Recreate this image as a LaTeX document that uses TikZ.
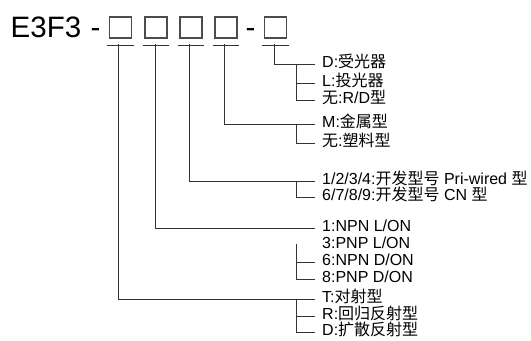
\documentclass[tikz,border=0pt]{standalone}
\usepackage{fontspec}
\setmainfont{Liberation Sans}
\newfontfamily\cjkfont{Noto Sans CJK SC}
\newcommand\zhs[1]{{\cjkfont #1}}
\begin{document}
\begin{tikzpicture}[x=1bp,y=-1bp,
  ln/.style={draw=black!80, line width=1bp},
  bx/.style={draw=black!70, line width=1.3bp, minimum width=22bp, minimum height=21bp, inner sep=0pt},
  ttl/.style={anchor=base west, inner sep=0pt, font=\fontsize{29.5bp}{32bp}\selectfont},
  lbl/.style={anchor=west, inner sep=0pt, inner xsep=7bp, font=\fontsize{16bp}{18bp}\selectfont, text height=0.9em, text depth=0.2em}]
\useasboundingbox (0,0) rectangle (531,340);
\clip (0,0) rectangle (531,340);
% title
\node[ttl] (e3f3) at (10.5,37.5) {E3F3};
\node[ttl] (d1) at (90.5,37.5) {-};
\node[ttl] (d2) at (245.5,37.5) {-};
\node[bx] (b1) at (120.5,27.5) {};
\node[bx] (b2) at (156,27.5) {};
\node[bx] (b3) at (191,27.5) {};
\node[bx] (b4) at (226,27.5) {};
\node[bx] (b5) at (275.5,27.5) {};
\foreach \b in {b1,b2,b3,b4,b5}
  \draw[ln] ([shift={(-1.5,6.5)}]\b.south west) -- ([shift={(1.5,6.5)}]\b.south east);
% labels
\node[lbl] (tD)  at (315,64)  {D:\zhs{受光器}};
\node[lbl] (tL)  at (315,83)  {L:\zhs{投光器}};
\node[lbl] (tRD) at (315,100) {\zhs{无}:R/D\zhs{型}};
\node[lbl] (tM)  at (315,124) {M:\zhs{金属型}};
\node[lbl] (tPl) at (315,143) {\zhs{无}:\zhs{塑料型}};
\node[lbl] (tPw) at (315,181) {1/2/3/4:\zhs{开发型号} Pri-wired \zhs{型}};
\node[lbl] (tCN) at (315,197) {6/7/8/9:\zhs{开发型号} CN \zhs{型}};
\node[lbl] (t1)  at (315,228) {1:NPN L/ON};
\node[lbl] (t3)  at (315,245) {3:PNP L/ON};
\node[lbl] (t6)  at (315,262) {6:NPN D/ON};
\node[lbl] (t8)  at (315,279) {8:PNP D/ON};
\node[lbl] (tT)  at (315,299) {T:\zhs{对射型}};
\node[lbl] (tR)  at (315,316) {R:\zhs{回归反射型}};
\node[lbl] (tDf) at (315,332) {D:\zhs{扩散反射型}};
% stems
\coordinate (u1) at (118,44);
\coordinate (u2) at (155,44);
\coordinate (u3) at (189,44);
\coordinate (u4) at (224,44);
\coordinate (u5) at (274,44);
\draw[ln] (u5) |- (tD.west);
\draw[ln] (u4) |- (tM.west);
\draw[ln] (u3) |- (tPw.west);
\draw[ln] (u2) |- (t1.west);
\draw[ln] (u1) |- (tT.west);
% branches
\coordinate (j5) at (296,64);
\coordinate (j4) at (296,124);
\coordinate (j3) at (296,181);
\coordinate (j2) at (296,244);
\coordinate (j1) at (296,299);
\draw[ln] (j5) |- (tRD.west);
\draw[ln] (j5 |- tL.west) -- (tL.west);
\draw[ln] (j4) |- (tPl.west);
\draw[ln] (j3) |- (tCN.west);
\draw[ln] (j2) |- (t8.west);
\draw[ln] (j2 |- t6.west) -- (t6.west);
\draw[ln] (j1) |- (tDf.west);
\draw[ln] (j1 |- tR.west) -- (tR.west);
\end{tikzpicture}
\end{document}
